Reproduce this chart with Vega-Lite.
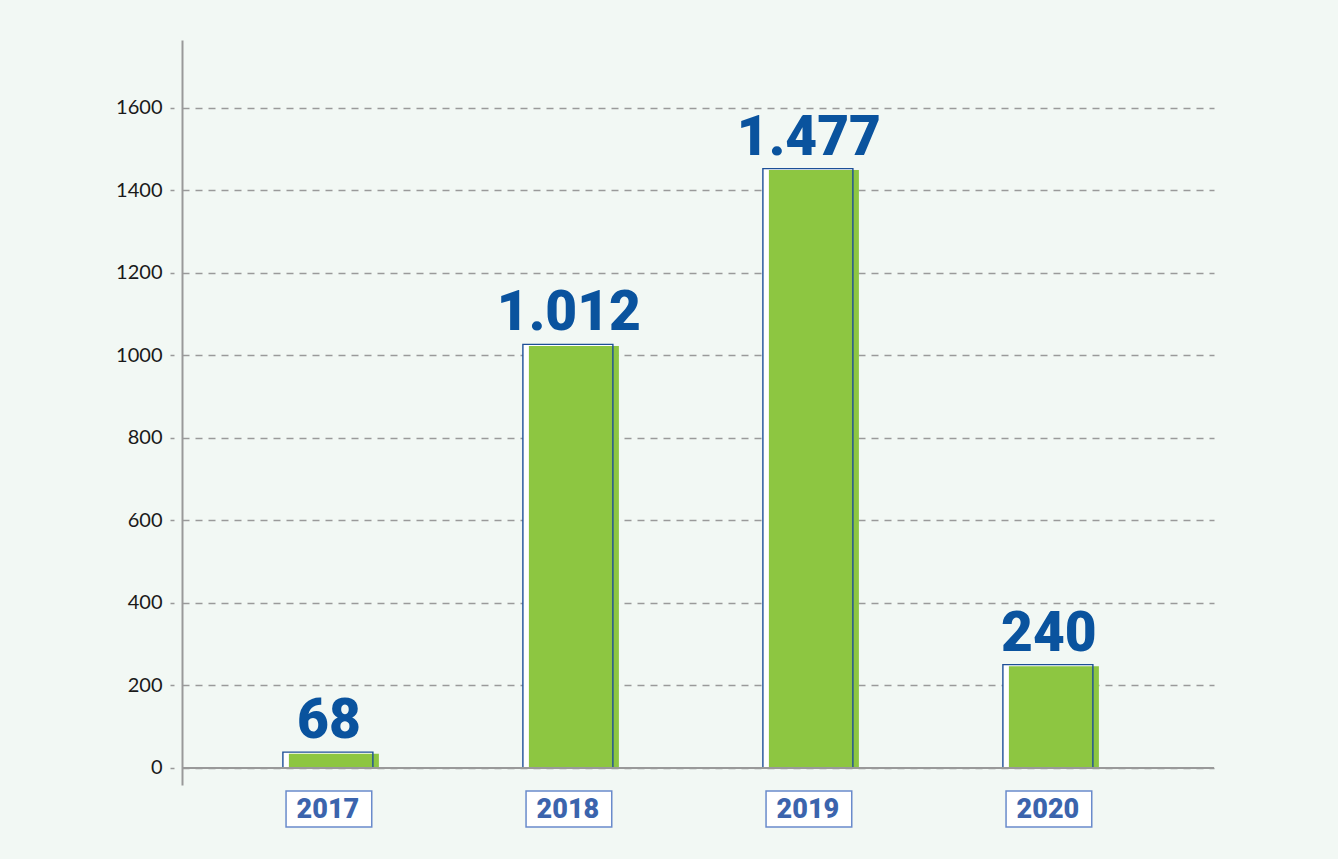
{
  "$schema": "https://vega.github.io/schema/vega-lite/v6.json",
  "width": 1032,
  "height": 745,
  "autosize": "none",
  "padding": {"left": 182, "top": 40, "right": 124, "bottom": 74},
  "background": "#f2f8f4",
  "config": {"view": {"stroke": null}},
  "data": {
    "values": [
      {"year": "2017", "height": 36, "label": "68"},
      {"year": "2018", "height": 1024, "label": "1.012"},
      {"year": "2019", "height": 1450, "label": "1.477"},
      {"year": "2020", "height": 248, "label": "240"}
    ]
  },
  "layer": [
    {
      "mark": {"type": "bar", "fill": "white", "xOffset": -3, "yOffset": -1},
      "encoding": {
        "x": {
          "field": "year", "type": "nominal",
          "scale": {"paddingInner": 0.625, "paddingOuter": 0.4625, "align": 0.468},
          "axis": {
            "title": null, "domain": false, "ticks": false, "tickSize": 0,
            "labelAngle": 0, "labelPadding": 24, "labelBaseline": "middle",
            "labelFont": "Roboto", "labelFontSize": 27, "labelFontWeight": 900,
            "labelColor": "#3b64ad", "labelOffset": -3, "zindex": 1
          }
        },
        "y": {
          "field": "height", "type": "quantitative",
          "scale": {"domain": [-41.2, 1764], "nice": false, "zero": false},
          "axis": {
            "title": null, "values": [0, 200, 400, 600, 800, 1000, 1200, 1400, 1600], "format": "d",
            "grid": true, "gridDash": [7, 6], "gridColor": "#9a9a9a", "gridWidth": 1.3,
            "domainColor": "#999999", "domainWidth": 2,
            "tickSize": 12, "tickColor": "#999999", "tickWidth": 1.3, "tickDash": [0, 8, 4, 100],
            "labelFont": "Lato", "labelFontSize": 20, "labelColor": "#1a1a1a", "labelPadding": 8
          }
        },
        "y2": {"datum": 0}
      }
    },
    {
      "mark": {"type": "bar", "fill": "#8dc641", "xOffset": 3, "yOffset": 0.5},
      "encoding": {
        "x": {"field": "year", "type": "nominal"},
        "y": {"field": "height", "type": "quantitative"},
        "y2": {"datum": 0}
      }
    },
    {
      "mark": {"type": "bar", "fillOpacity": 0, "stroke": "#1d4f97", "strokeWidth": 1.4, "xOffset": -3, "yOffset": -1},
      "encoding": {
        "x": {"field": "year", "type": "nominal"},
        "y": {"field": "height", "type": "quantitative"},
        "y2": {"datum": 0}
      }
    },
    {
      "mark": {"type": "rule", "color": "#999999", "strokeWidth": 2},
      "encoding": {"y": {"datum": 0}}
    },
    {
      "mark": {"type": "text", "font": "Roboto", "fontWeight": 900, "fontSize": 55, "color": "#0a539e", "baseline": "alphabetic", "dy": -15, "dx": -2},
      "encoding": {
        "x": {"field": "year", "type": "nominal"},
        "y": {"field": "height", "type": "quantitative"},
        "text": {"field": "label"}
      }
    },
    {
      "mark": {"type": "point", "shape": "M-1,-0.42L1,-0.42L1,0.42L-1,0.42Z", "size": 7344, "filled": true, "fill": "white", "stroke": "#6a8bcb", "strokeWidth": 1.5, "opacity": 1, "fillOpacity": 1, "strokeOpacity": 1, "xOffset": -2, "yOffset": 41, "clip": false},
      "encoding": {
        "x": {"field": "year", "type": "nominal"},
        "y": {"datum": 0}
      }
    }
  ]
}
